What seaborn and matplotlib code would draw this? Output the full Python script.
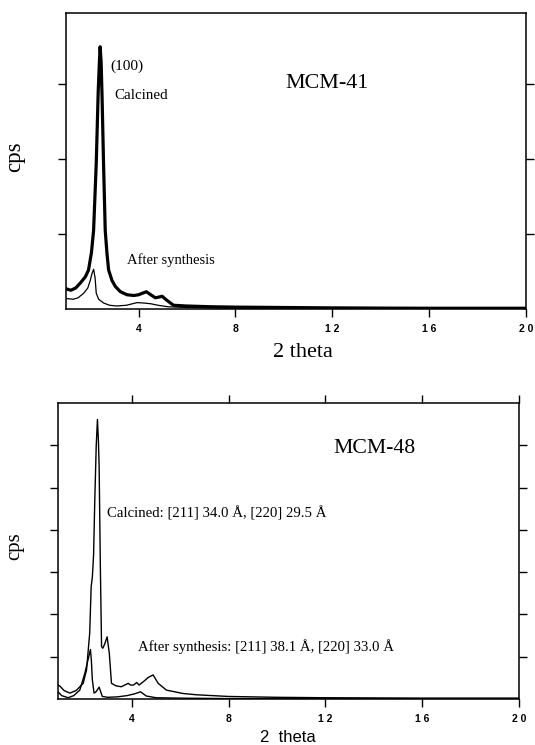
import numpy as np
import pandas as pd
import matplotlib
matplotlib.use("Agg")
import matplotlib.pyplot as plt
import seaborn as sns

# ---- data: MCM-41 ----
mcm41_calc_x = [1.0, 1.2, 1.4, 1.6, 1.8, 1.93, 2.05, 2.14, 2.25, 2.33, 2.38, 2.41, 2.45, 2.49,
                2.55, 2.62, 2.69, 2.76, 2.9, 3.04, 3.25, 3.52, 3.8, 4.0, 4.15, 4.32, 4.5, 4.69,
                4.85, 4.97, 5.15, 5.44, 5.98, 7.0, 8.0, 10.0, 12.0, 14.0, 16.0, 18.0, 20.0]
mcm41_calc_y = [0.27, 0.25, 0.28, 0.35, 0.43, 0.52, 0.75, 1.05, 1.95, 2.9, 3.3, 3.5, 3.3, 2.83,
                1.95, 1.05, 0.75, 0.52, 0.38, 0.30, 0.23, 0.19, 0.18, 0.19, 0.21, 0.23, 0.19, 0.15,
                0.16, 0.17, 0.12, 0.05, 0.04, 0.03, 0.025, 0.02, 0.015, 0.012, 0.01, 0.01, 0.01]
mcm41_syn_x = [1.0, 1.3, 1.5, 1.73, 1.9, 2.0, 2.08, 2.14, 2.2, 2.25, 2.35, 2.55, 2.8, 3.1, 3.5,
               3.93, 4.2, 4.5, 4.8, 5.2, 6.0, 8.0, 12.0, 16.0, 20.0]
mcm41_syn_y = [0.14, 0.13, 0.15, 0.21, 0.28, 0.38, 0.48, 0.53, 0.42, 0.21, 0.13, 0.08, 0.05, 0.04,
               0.05, 0.085, 0.08, 0.07, 0.05, 0.03, 0.02, 0.01, 0.01, 0.005, 0.005]

# ---- data: MCM-48 ----
mcm48_calc_x = [0.95, 1.02, 1.2, 1.44, 1.7, 1.99, 2.13, 2.26, 2.32, 2.37, 2.42, 2.47, 2.53, 2.58,
                2.62, 2.65, 2.70, 2.75, 2.80, 2.88, 2.98, 3.07, 3.16, 3.35, 3.57, 3.85, 3.95, 4.07,
                4.2, 4.3, 4.5, 4.68, 4.88, 5.09, 5.43, 6.12, 6.67, 8.0, 10.0, 12.0, 16.0, 20.0]
mcm48_calc_y = [0.33, 0.31, 0.2, 0.14, 0.2, 0.37, 0.69, 1.56, 2.65, 2.89, 3.4, 4.7, 6.0, 6.61,
                6.1, 5.49, 3.13, 1.24, 1.2, 1.3, 1.47, 1.08, 0.37, 0.31, 0.29, 0.37, 0.33, 0.33,
                0.39, 0.33, 0.42, 0.51, 0.57, 0.37, 0.21, 0.13, 0.10, 0.06, 0.04, 0.03, 0.02, 0.02]
mcm48_syn_x = [0.95, 1.1, 1.37, 1.6, 1.85, 2.06, 2.2, 2.29, 2.33, 2.37, 2.44, 2.52, 2.65, 2.78,
               3.0, 3.4, 3.8, 4.1, 4.36, 4.6, 5.0, 6.0, 8.0, 12.0, 16.0, 20.0]
mcm48_syn_y = [0.17, 0.08, 0.03, 0.08, 0.21, 0.61, 0.95, 1.17, 0.9, 0.45, 0.14, 0.17, 0.28, 0.06,
               0.04, 0.05, 0.08, 0.12, 0.17, 0.07, 0.03, 0.02, 0.01, 0.01, 0.01, 0.01]

x_ticks = [4, 8, 12, 16, 20]
x_tick_labels = ["4", "8", "1 2", "1 6", "2 0"]

sns.set_theme(style="ticks")
plt.rcParams["font.family"] = ["Liberation Serif", "DejaVu Serif"]
plt.rcParams["axes.linewidth"] = 1.1
plt.rcParams["text.color"] = "black"
plt.rcParams["axes.labelcolor"] = "black"
plt.rcParams["xtick.color"] = "black"
plt.rcParams["ytick.color"] = "black"
plt.rcParams["axes.edgecolor"] = "black"

fig = plt.figure(figsize=(5.35, 7.45), dpi=100)
W, H = 535, 745

def add_axes(l, t, r, b):
    return fig.add_axes([l / W, 1 - b / H, (r - l) / W, (b - t) / H])

ax1 = add_axes(66, 13, 526, 309)
ax2 = add_axes(58, 403, 519, 699)

df41c = pd.DataFrame({"x": mcm41_calc_x, "y": mcm41_calc_y})
df41s = pd.DataFrame({"x": mcm41_syn_x, "y": mcm41_syn_y})
df48c = pd.DataFrame({"x": mcm48_calc_x, "y": mcm48_calc_y})
df48s = pd.DataFrame({"x": mcm48_syn_x, "y": mcm48_syn_y})

sns.lineplot(data=df41c, x="x", y="y", ax=ax1, color="black", lw=2.3, sort=False, estimator=None)
sns.lineplot(data=df41s, x="x", y="y", ax=ax1, color="black", lw=0.9, sort=False, estimator=None)
sns.lineplot(data=df48c, x="x", y="y", ax=ax2, color="black", lw=1.0, sort=False, estimator=None)
sns.lineplot(data=df48s, x="x", y="y", ax=ax2, color="black", lw=1.0, sort=False, estimator=None)

tickfont = dict(family="Liberation Sans", weight="bold", size=7.5, color="black")

# top panel
ax1.set_xlim(1.0, 20.0)
ax1.set_ylim(0, 3.95)
ax1.set_xticks(x_ticks)
ax1.set_xticklabels(x_tick_labels, fontdict=tickfont)
ax1.set_yticks([1, 2, 3])
ax1.set_yticklabels([])
ax1.tick_params(axis="both", direction="out", length=6, width=1, color="black", pad=5)
ax1.tick_params(axis="y", left=True, right=True)
ax1.tick_params(axis="x", top=False, bottom=True)
for s in ax1.spines.values():
    s.set_color("black")
ax1.set_xlabel("2 theta", fontsize=16, family="Liberation Serif", color="black")
ax1.xaxis.set_label_coords(0.514, -0.115)
ax1.set_ylabel("cps", fontsize=16.5, family="Liberation Serif", color="black")
ax1.yaxis.set_label_coords(-0.089, 0.514)

ax1.text(2.83, 3.24, "(100)", fontsize=11, ha="left", va="center", color="black")
ax1.text(3.01, 2.85, "Calcined", fontsize=10.8, ha="left", va="center", color="black")
ax1.text(3.52, 0.65, "After synthesis", fontsize=10.5, ha="left", va="center", color="black")
ax1.text(10.07, 3.01, "MCM-41", fontsize=15.8, ha="left", va="center", color="black")

# bottom panel
ax2.set_xlim(0.95, 20.0)
ax2.set_ylim(0, 7.0)
ax2.set_xticks(x_ticks)
ax2.set_xticklabels(x_tick_labels, fontdict=tickfont)
ax2.set_yticks([1, 2, 3, 4, 5, 6])
ax2.set_yticklabels([])
ax2.tick_params(axis="both", direction="out", length=6, width=1, color="black", pad=5)
ax2.tick_params(axis="y", left=True, right=True)
ax2.tick_params(axis="x", top=True, bottom=True, labeltop=False)
for s in ax2.spines.values():
    s.set_color("black")
ax2.set_xlabel("2  theta", fontsize=12, family="Liberation Sans", color="black")
ax2.xaxis.set_label_coords(0.498, -0.105)
ax2.set_ylabel("cps", fontsize=15, family="Liberation Serif", color="black")
ax2.yaxis.set_label_coords(-0.074, 0.517)

ax2.text(12.31, 5.93, "MCM-48", fontsize=15.7, ha="left", va="center", color="black")
ax2.text(2.97, 4.40, "Calcined: [211] 34.0 Å, [220] 29.5 Å", fontsize=10.6, ha="left", va="center", color="black")
ax2.text(4.25, 1.23, "After synthesis: [211] 38.1 Å, [220] 33.0 Å", fontsize=10.6, ha="left", va="center", color="black")

fig.savefig("out.png", dpi=100, facecolor="white")
